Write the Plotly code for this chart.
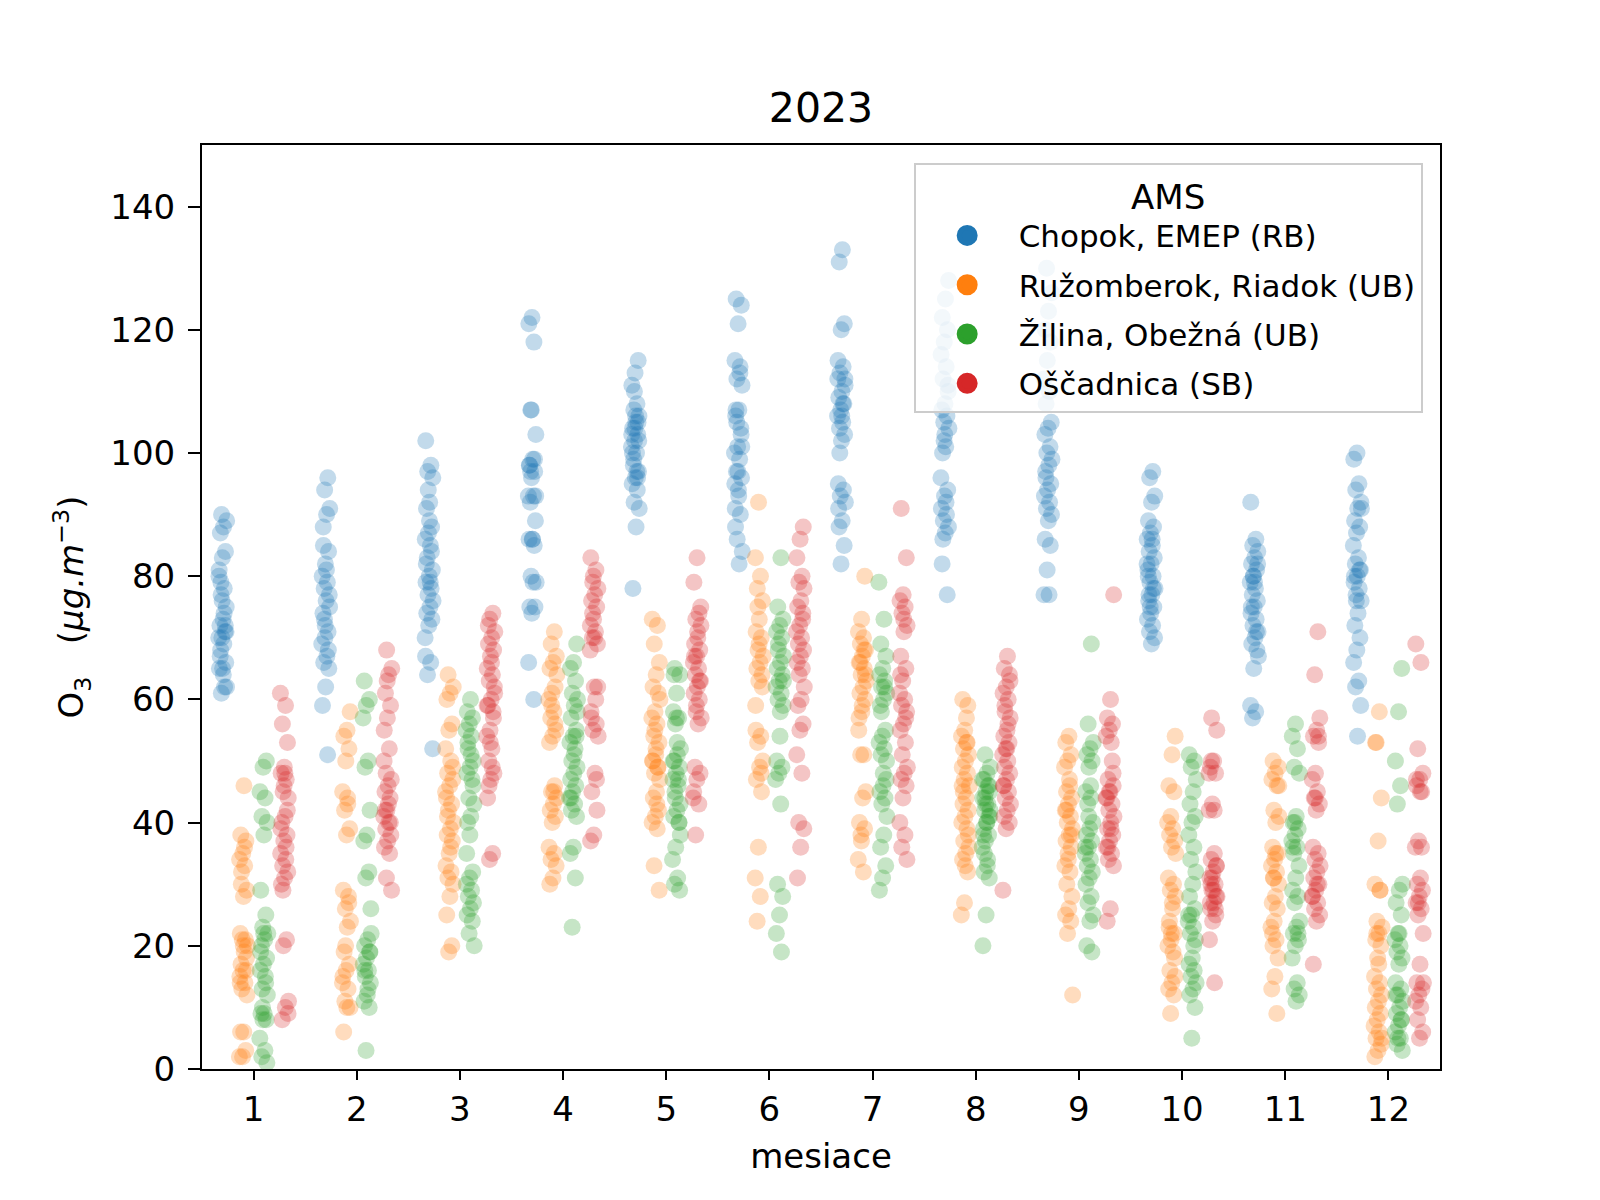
import plotly.graph_objects as go

months = list(range(1, 13))
stations = ["Chopok, EMEP (RB)", "Ružomberok, Riadok (UB)", "Žilina, Obežná (UB)", "Oščadnica (SB)"]
colors = ["#1f77b4", "#ff7f0e", "#2ca02c", "#d62728"]

chopok = [
    [90, 89, 88, 87, 84, 83, 81, 78, 77, 75, 73, 72, 71, 70, 70, 69, 68, 66, 65, 65, 62, 61, 62, 64, 67, 72, 76, 80, 74, 79, 71],
    [96, 94, 91, 90, 85, 84, 82, 80, 79, 78, 77, 76, 74, 71, 70, 69, 67, 66, 65, 62, 59, 51, 73, 75, 81, 88, 68, 72],
    [102, 98, 97, 96, 92, 91, 88, 87, 86, 85, 83, 81, 80, 79, 78, 77, 76, 75, 74, 73, 72, 67, 66, 64, 52, 89, 82, 84, 94, 70, 79],
    [122, 121, 118, 107, 103, 99, 98, 97, 96, 93, 93, 92, 89, 86, 86, 85, 80, 79, 79, 75, 75, 74, 66, 60, 97, 93, 86, 98, 99, 107],
    [115, 113, 111, 108, 107, 106, 105, 104, 103, 102, 101, 100, 98, 97, 96, 95, 94, 92, 91, 88, 78, 105, 104, 103, 97, 99, 102, 106, 100, 96, 110],
    [125, 124, 121, 115, 114, 112, 111, 107, 106, 104, 101, 100, 99, 97, 96, 94, 91, 90, 86, 84, 82, 107, 103, 97, 95, 113, 105, 101, 93, 88],
    [133, 131, 121, 120, 115, 114, 113, 111, 110, 109, 108, 107, 106, 105, 104, 103, 102, 95, 94, 93, 92, 89, 88, 85, 82, 112, 108, 100, 112, 106, 91],
    [128, 125, 122, 120, 118, 116, 114, 112, 110, 108, 107, 106, 105, 104, 101, 100, 94, 93, 91, 90, 89, 88, 87, 82, 77, 102, 96, 92, 86, 111, 103],
    [130, 126, 123, 120, 118, 115, 112, 110, 108, 105, 104, 103, 101, 100, 99, 98, 97, 95, 94, 93, 92, 91, 90, 89, 86, 85, 81, 77, 77, 96],
    [97, 96, 93, 92, 89, 88, 87, 86, 85, 84, 83, 82, 81, 80, 79, 78, 77, 76, 75, 74, 73, 72, 71, 70, 69, 80, 78, 75, 82, 86, 77],
    [92, 86, 85, 84, 83, 82, 81, 80, 79, 78, 77, 76, 75, 74, 73, 72, 71, 70, 69, 68, 65, 59, 58, 57, 82, 79, 75, 71, 80, 67],
    [100, 99, 95, 94, 92, 91, 89, 88, 87, 85, 83, 82, 81, 80, 79, 78, 77, 76, 74, 72, 70, 68, 66, 63, 62, 59, 54, 80, 81, 76, 91],
]
ruzomberok = [
    [46, 38, 37, 35, 34, 33, 32, 29, 28, 22, 21, 21, 20, 19, 17, 16, 16, 15, 14, 13, 12, 6, 6, 3, 2, 2, 36, 30, 18, 20, 14],
    [58, 55, 54, 52, 50, 45, 43, 42, 39, 38, 29, 28, 26, 24, 23, 19, 17, 16, 15, 13, 11, 10, 10, 6, 27, 20, 14, 44],
    [64, 62, 61, 60, 56, 55, 52, 50, 48, 47, 46, 44, 43, 42, 40, 39, 38, 37, 35, 33, 32, 31, 30, 28, 25, 20, 19, 45, 36, 41, 49],
    [71, 69, 67, 66, 65, 62, 61, 60, 58, 57, 55, 54, 53, 46, 45, 44, 43, 42, 41, 40, 36, 35, 34, 33, 31, 30, 56, 59, 64, 45],
    [73, 72, 69, 66, 64, 62, 61, 58, 57, 56, 54, 53, 51, 50, 49, 48, 47, 45, 44, 42, 41, 40, 39, 33, 29, 52, 50, 49, 55, 60, 43],
    [92, 83, 80, 78, 76, 73, 71, 70, 68, 67, 66, 65, 64, 63, 59, 54, 53, 50, 49, 47, 45, 36, 31, 28, 24, 62, 69, 55, 48, 75],
    [80, 73, 71, 70, 69, 68, 67, 66, 65, 64, 63, 62, 61, 60, 58, 55, 51, 51, 45, 44, 40, 39, 37, 34, 32, 66, 64, 59, 57, 68, 38],
    [60, 59, 55, 54, 53, 52, 51, 50, 49, 48, 47, 46, 44, 43, 42, 41, 40, 39, 37, 36, 35, 34, 32, 27, 25, 57, 45, 38, 33, 46, 53],
    [54, 53, 51, 50, 49, 46, 45, 44, 43, 42, 41, 40, 39, 38, 37, 36, 35, 33, 32, 30, 28, 26, 25, 24, 22, 12, 47, 42, 38, 34],
    [54, 51, 46, 45, 41, 40, 39, 38, 37, 36, 31, 30, 29, 28, 27, 23, 22, 21, 20, 19, 16, 15, 14, 13, 12, 9, 35, 26, 24, 18, 22],
    [50, 49, 48, 47, 46, 42, 41, 40, 36, 35, 34, 33, 32, 31, 30, 28, 27, 26, 24, 23, 21, 20, 18, 15, 13, 9, 31, 46, 35, 22],
    [58, 53, 44, 37, 30, 29, 24, 23, 22, 21, 20, 18, 15, 14, 13, 12, 11, 10, 9, 8, 7, 6, 5, 4, 3, 2, 29, 22, 5, 17, 53],
]
zilina = [
    [50, 49, 45, 44, 41, 40, 38, 29, 25, 23, 22, 21, 20, 18, 17, 16, 15, 13, 12, 9, 9, 8, 8, 5, 3, 2, 1, 22, 19, 14, 10],
    [63, 60, 59, 57, 50, 49, 42, 38, 37, 32, 31, 26, 21, 20, 19, 18, 17, 16, 15, 14, 12, 11, 10, 3, 22, 13, 16, 19],
    [60, 58, 57, 56, 55, 54, 52, 50, 49, 48, 47, 44, 43, 41, 40, 32, 31, 30, 29, 28, 27, 26, 25, 24, 22, 20, 51, 53, 46, 38, 35],
    [69, 66, 65, 63, 61, 60, 59, 57, 55, 54, 53, 52, 50, 49, 48, 47, 46, 45, 44, 43, 42, 41, 36, 35, 31, 23, 58, 51, 44, 54],
    [65, 64, 61, 58, 57, 56, 52, 51, 50, 49, 48, 47, 46, 45, 43, 42, 41, 40, 36, 34, 31, 30, 29, 57, 50, 47, 44, 38, 53, 64, 40],
    [83, 75, 73, 72, 71, 70, 69, 67, 66, 65, 64, 63, 62, 61, 60, 59, 54, 50, 49, 48, 47, 43, 30, 28, 25, 22, 19, 68, 63, 58],
    [79, 73, 69, 67, 65, 64, 63, 62, 61, 60, 59, 55, 54, 53, 52, 51, 47, 46, 45, 44, 43, 41, 38, 36, 33, 31, 29, 62, 58, 50, 48],
    [51, 49, 48, 47, 46, 45, 44, 43, 42, 41, 40, 39, 38, 37, 36, 33, 32, 31, 25, 20, 46, 44, 42, 40, 38, 41, 43, 47, 34, 35, 45],
    [69, 56, 53, 52, 51, 50, 49, 45, 44, 43, 40, 39, 38, 37, 36, 35, 34, 33, 32, 31, 30, 28, 27, 25, 24, 20, 19, 41, 36, 46],
    [51, 50, 49, 47, 45, 43, 41, 40, 38, 36, 34, 32, 30, 28, 26, 25, 24, 23, 22, 21, 18, 17, 16, 15, 14, 13, 12, 10, 5, 25, 20],
    [56, 54, 52, 49, 48, 41, 40, 39, 38, 37, 36, 35, 33, 31, 29, 28, 27, 24, 23, 22, 21, 20, 18, 14, 13, 12, 11, 36, 22, 40],
    [65, 58, 50, 46, 43, 30, 29, 27, 25, 22, 21, 20, 19, 18, 17, 14, 13, 12, 11, 10, 9, 8, 7, 6, 5, 4, 3, 22, 12, 8, 5],
]
oscadnica = [
    [61, 59, 56, 53, 49, 48, 47, 45, 44, 41, 40, 38, 37, 35, 34, 33, 32, 31, 30, 21, 20, 11, 10, 8, 42, 46, 39, 36, 29, 9, 48],
    [68, 65, 64, 61, 59, 57, 55, 52, 48, 47, 46, 45, 44, 42, 41, 40, 39, 38, 37, 36, 35, 31, 29, 43, 42, 40, 63, 50],
    [74, 73, 71, 70, 69, 68, 67, 65, 64, 63, 62, 60, 59, 58, 55, 54, 52, 50, 48, 47, 44, 35, 34, 61, 66, 72, 57, 53, 59, 49, 46],
    [83, 81, 79, 78, 77, 76, 75, 73, 72, 71, 70, 69, 62, 58, 56, 55, 54, 48, 45, 42, 38, 37, 60, 74, 62, 70, 57, 47, 80, 68],
    [83, 79, 74, 73, 72, 70, 69, 68, 67, 66, 65, 64, 63, 62, 61, 60, 58, 57, 56, 49, 48, 47, 45, 43, 38, 75, 71, 67, 63, 59, 44],
    [88, 86, 83, 80, 79, 78, 76, 75, 74, 72, 71, 70, 69, 68, 67, 66, 65, 64, 62, 60, 59, 56, 55, 51, 48, 40, 39, 36, 31, 73],
    [91, 83, 77, 76, 75, 74, 72, 71, 67, 65, 63, 61, 60, 59, 58, 56, 55, 53, 51, 49, 48, 47, 46, 44, 40, 38, 36, 34, 73, 64, 57],
    [67, 65, 64, 62, 61, 60, 58, 57, 55, 54, 53, 52, 51, 50, 49, 48, 47, 46, 45, 44, 43, 42, 41, 40, 39, 29, 56, 59, 63, 52, 46],
    [77, 60, 57, 56, 55, 54, 53, 47, 46, 45, 44, 43, 42, 41, 40, 39, 38, 37, 36, 35, 34, 33, 26, 24, 50, 45, 44, 39, 36, 48],
    [57, 55, 50, 49, 48, 43, 42, 35, 34, 33, 32, 31, 30, 29, 28, 27, 26, 25, 24, 21, 14, 50, 33, 29, 27, 26, 31, 48, 42, 30, 28],
    [71, 64, 57, 55, 54, 53, 48, 47, 45, 44, 43, 42, 36, 35, 34, 33, 32, 31, 30, 29, 28, 27, 26, 25, 24, 17, 54, 44, 28, 30],
    [69, 66, 52, 48, 47, 46, 45, 37, 36, 31, 30, 29, 28, 27, 26, 25, 22, 17, 14, 13, 12, 11, 10, 8, 6, 5, 47, 36, 27, 14, 45],
]

series = [chopok, ruzomberok, zilina, oscadnica]
offsets = [-0.3, -0.1, 0.1, 0.3]
JW = 0.04  # half-width of the strip jitter (layout only)

FONT = "DejaVu Sans"
fig = go.Figure()

for s, (name, col, data, off) in enumerate(zip(stations, colors, series, offsets)):
    xs, ys = [], []
    for m, vals in zip(months, data):
        for k, v in enumerate(vals):
            j = ((k * 0.6180339 + m * 0.37 + s * 0.21) % 1.0 - 0.5) * 2 * JW
            xs.append(m + off + j)
            ys.append(v)
    fig.add_trace(go.Scatter(
        x=xs, y=ys, mode="markers", name=name, showlegend=False,
        marker=dict(color=col, size=17, opacity=0.27, line=dict(width=0)),
        hoverinfo="skip",
    ))

for s, (name, col) in enumerate(zip(stations, colors)):
    fig.add_trace(go.Scatter(
        x=[None], y=[None], mode="markers", name=name, showlegend=True,
        legendgroup=f"g{s}",
        marker=dict(color=col, size=16, opacity=1, line=dict(width=5, color=col)),
    ))

L, R, T, B = 194, 1432, 137, 1061
fig.update_layout(
    width=1600, height=1200,
    margin=dict(l=L, r=1600 - R, t=T, b=1200 - B, autoexpand=False),
    paper_bgcolor="white", plot_bgcolor="white",
    font=dict(family=FONT, size=34, color="black"),
    title=dict(text="2023", x=(L + R) / 2 / 1600, xanchor="center",
               y=1 - 100 / 1200, yanchor="middle", yref="container",
               font=dict(size=41, family=FONT)),
    showlegend=True,
    legend=dict(
        title=dict(text="AMS", side="top center", font=dict(size=34)),
        x=0.986, xanchor="right", y=0.981, yanchor="top",
        bgcolor="rgba(255,255,255,0.8)", bordercolor="#cccccc", borderwidth=2,
        font=dict(size=31, family=FONT), itemsizing="trace", itemwidth=93,
        tracegroupgap=6,
    ),
)
fig.update_xaxes(
    range=[0.5, 12.5], tickvals=months, ticktext=[str(m) for m in months],
    showline=True, linecolor="black", linewidth=2, mirror=True,
    ticks="outside", ticklen=9, tickwidth=2, tickcolor="black",
    showgrid=False, zeroline=False, automargin=False,
    title=dict(text="mesiace", font=dict(size=34), standoff=16),
)
fig.update_yaxes(
    range=[0, 150], tickvals=list(range(0, 141, 20)),
    showline=True, linecolor="black", linewidth=2, mirror=True,
    ticks="outside", ticklen=12, tickwidth=2, tickcolor="black",
    showgrid=False, zeroline=False, automargin=False, ticklabelstandoff=6,
    title=dict(text="O<sub>3</sub>   (<i>μg.m</i><sup>−3</sup>)", font=dict(size=34), standoff=16),
)

fig.write_html("out.html")
